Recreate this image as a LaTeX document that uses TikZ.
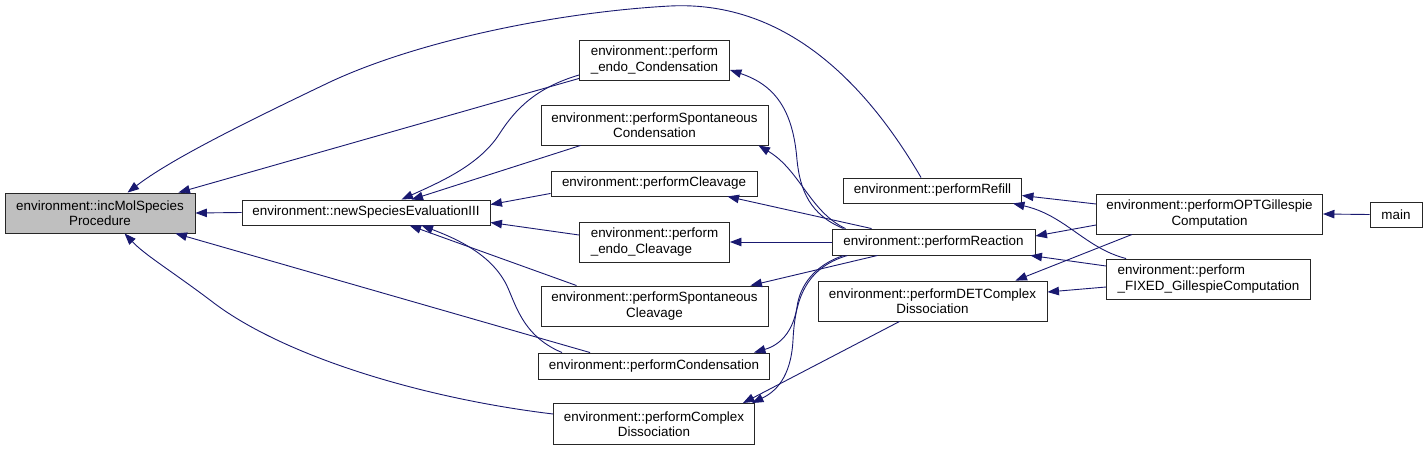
\documentclass[tikz,border=0pt]{standalone}
\usepackage{fontspec}
\setmainfont{Liberation Sans}
\usetikzlibrary{arrows.meta,calc}
\definecolor{edgeblue}{RGB}{25,25,112}
\definecolor{incgray}{RGB}{191,191,191}
\begin{document}
\begin{tikzpicture}[x=1pt,y=-1pt,
  fn/.style={draw=black!85,line width=0.9pt,inner sep=0pt,align=center,
    font=\fontsize{13.4}{15.5}\selectfont},
  fnl/.style={fn,align=left},
  call/.style={draw=edgeblue,line width=0.9pt,
    -{Triangle[length=11.5pt,width=8.5pt]},fill=none},
]
\useasboundingbox (0,0) rectangle (1427,450);
\fill[white] (0,0) rectangle (1427,450);

% nodes
\node[fn,fill=incgray,minimum width=190pt,minimum height=40pt] (inc) at (100,213) {environment::incMolSpecies\\Procedure};
\node[fn,minimum width=248pt,minimum height=25pt] (newSpec) at (366,212.5) {environment::newSpeciesEvaluationIII};
\node[fnl,minimum width=150pt,minimum height=40pt] (endoCond) at (654.5,60) {environment::perform\\\_endo\_Condensation};
\node[fn,minimum width=227pt,minimum height=40pt] (spontCond) at (654.5,125) {environment::performSpontaneous\\Condensation};
\node[fn,minimum width=206pt,minimum height=25pt] (cleavage) at (654,183.5) {environment::performCleavage};
\node[fnl,minimum width=150pt,minimum height=40pt] (endoCleav) at (654.5,242) {environment::perform\\\_endo\_Cleavage};
\node[fn,minimum width=227pt,minimum height=40pt] (spontCleav) at (654.5,306) {environment::performSpontaneous\\Cleavage};
\node[fn,minimum width=231pt,minimum height=26pt] (condensation) at (654,366) {environment::performCondensation};
\node[fn,minimum width=201pt,minimum height=41pt] (complexDiss) at (654,424) {environment::performComplex\\Dissociation};
\node[fn,minimum width=178pt,minimum height=25pt] (refill) at (932.5,190.5) {environment::performRefill};
\node[fn,minimum width=203pt,minimum height=26pt] (reaction) at (933.5,242) {environment::performReaction};
\node[fn,minimum width=229pt,minimum height=40pt] (detComplex) at (932.5,301) {environment::performDETComplex\\Dissociation};
\node[fn,minimum width=226pt,minimum height=40pt] (optGill) at (1209.5,214) {environment::performOPTGillespie\\Computation};
\node[fnl,minimum width=204pt,minimum height=40pt] (fixedGill) at (1208.5,279) {environment::perform\\\_FIXED\_GillespieComputation};
\node[fn,minimum width=52pt,minimum height=25pt] (main) at (1396,214.5) {main};

% edges into inc
\draw[call] (newSpec.west) -- (inc.east);
\draw[call] ($(endoCond.south west)+(0,-2)$) -- ($(inc.north east)+(-17,0)$);
\draw[call] ($(refill.north west)+(78,0)$) .. controls (870,90) and (790,0) .. (670,6)
  .. controls (560,12) and (420,40) .. (330,82)
  .. controls (240,125) and (170,160) .. ($(inc.north west)+(123,0)$);
\draw[call] ($(complexDiss.west)+(0,-10)$) .. controls (420,398) and (280,355) .. (210,300)
  .. controls (170,270) and (145,255) .. ($(inc.south west)+(120,0)$);
\draw[call] ($(condensation.north west)+(52,0)$) -- ($(inc.south east)+(-20,0)$);

% edges into newSpec
\draw[call] ($(endoCond.west)+(0,15)$) .. controls (535,88) and (515,110) .. (500,133)
  .. controls (480,165) and (440,182) .. ($(newSpec.north west)+(160,0)$);
\draw[call] ($(spontCond.south west)+(40,0)$) -- ($(newSpec.north west)+(170,0)$);
\draw[call] ($(cleavage.south west)+(0,-3)$) -- ($(newSpec.north east)+(0,5)$);
\draw[call] ($(endoCleav.west)+(0,-7)$) -- ($(newSpec.east)+(0,10)$);
\draw[call] ($(spontCleav.north west)+(36,0)$) -- ($(newSpec.south west)+(168,0)$);
\draw[call] ($(condensation.north west)+(24,0)$) .. controls (520,335) and (515,300) .. (505,282)
  .. controls (490,255) and (460,240) .. ($(newSpec.south west)+(180,0)$);

% edges from reaction
\draw[call] ($(reaction.north west)+(12,0)$) .. controls (810,215) and (800,190) .. (797,160)
  .. controls (793,110) and (775,85) .. ($(endoCond.east)+(0,10)$);
\draw[call] ($(reaction.north west)+(14,0)$) .. controls (810,212) and (800,170) .. ($(spontCond.south east)+(-10,0)$);
\draw[call] ($(reaction.north west)+(40,0)$) -- ($(cleavage.south east)+(-30,0)$);
\draw[call] (reaction.west) -- (endoCleav.east);
\draw[call] ($(reaction.south west)+(46,0)$) -- ($(spontCleav.north east)+(-18,0)$);
\draw[call] ($(reaction.south west)+(12,0)$) .. controls (815,265) and (800,285) .. (797,307)
  .. controls (793,332) and (780,345) .. ($(condensation.north east)+(-16,0)$);
\draw[call] ($(reaction.south west)+(16,0)$) .. controls (805,268) and (795,300) .. (793,340)
  .. controls (791,378) and (775,392) .. ($(complexDiss.north east)+(-3,0)$);
\draw[call] ($(detComplex.south west)+(82,0)$) -- ($(complexDiss.north east)+(-12,0)$);

% edges from Gillespie
\draw[call] ($(optGill.west)+(0,-10)$) -- ($(refill.east)+(0,5)$);
\draw[call] ($(optGill.west)+(0,11)$) -- ($(reaction.east)+(0,-6)$);
\draw[call] ($(optGill.south west)+(36,0)$) -- ($(detComplex.north east)+(-32,0)$);
\draw[call] ($(fixedGill.north west)+(20,0)$) .. controls (1085,248) and (1065,215) .. ($(refill.south east)+(-9,0)$);
\draw[call] ($(fixedGill.west)+(0,-13)$) -- ($(reaction.south east)+(-5,0)$);
\draw[call] ($(fixedGill.west)+(0,8)$) -- ($(detComplex.east)+(0,-9)$);
\draw[call] (main.west) -- (optGill.east);
\end{tikzpicture}
\end{document}
